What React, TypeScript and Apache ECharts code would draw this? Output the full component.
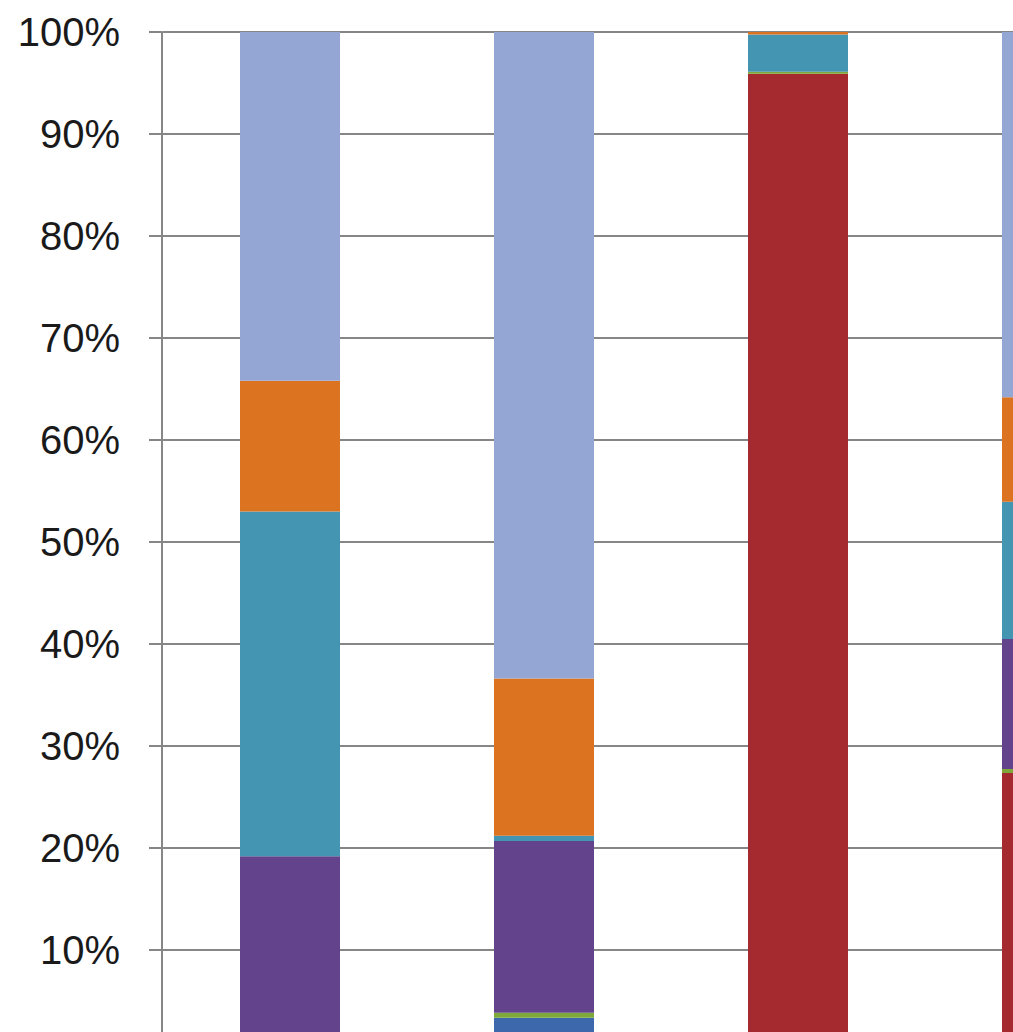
import React, { useEffect, useRef } from "react";
import * as echarts from "echarts";

const categories = ["1", "2", "3", "4"];
const seriesNames = ["S1", "S2", "S3", "S4", "S5", "S6", "S7"];
const blueValues = [0, 3.36, 0, 0];
const redValues = [0, 0, 95.9, 27.35];
const greenValues = [0, 0.5, 0.2, 0.4];
const purpleValues = [19.2, 16.83, 0, 12.75];
const tealValues = [33.8, 0.52, 3.65, 13.45];
const orangeValues = [12.8, 15.4, 0.25, 10.25];
const lightBlueValues = [34.2, 63.4, 0, 35.8];
const yTicks = [0, 10, 20, 30, 40, 50, 60, 70, 80, 90, 100];

const colors = ["#3e68ac", "#a52a30", "#7ea83a", "#63448c", "#4395b1", "#dc7320", "#93a6d4"];
const allValues = [blueValues, redValues, greenValues, purpleValues, tealValues, orangeValues, lightBlueValues];

export default function App() {
  const ref = useRef<HTMLDivElement>(null);
  useEffect(() => {
    document.documentElement.style.overflow = "hidden";
    document.body.style.overflow = "hidden";
    const chart = echarts.init(ref.current!, null, { renderer: "svg" });
    chart.setOption({
      animation: false,
      backgroundColor: "#ffffff",
      grid: { left: 163, top: 32, width: 1016, height: 1020 },
      xAxis: {
        type: "category",
        data: categories,
        axisLine: { show: true, lineStyle: { color: "#868686", width: 2 } },
        axisTick: { show: false },
        axisLabel: { show: false },
      },
      yAxis: {
        type: "value",
        min: yTicks[0],
        max: yTicks[yTicks.length - 1],
        interval: 10,
        offset: 1,
        axisLine: { show: true, lineStyle: { color: "#868686", width: 2 } },
        axisTick: { show: true, length: 13, lineStyle: { color: "#868686", width: 2 } },
        splitLine: { show: true, lineStyle: { color: "#868686", width: 2 } },
        axisLabel: {
          formatter: (v: number) => (v === 0 ? "" : v + "%"),
          fontFamily: "Liberation Sans",
          fontSize: 40,
          color: "#1a1a1a",
          margin: 42,
        },
      },
      series: allValues.map((vals, i) => ({
        name: seriesNames[i],
        type: "bar",
        stack: "total",
        barWidth: 100,
        data: vals,
        itemStyle: { color: colors[i] },
      })),
    });
    return () => chart.dispose();
  }, []);
  return (
    <div
      ref={ref}
      style={{ position: "fixed", left: 0, top: 0, width: 1200, height: 1100, background: "#fff" }}
    />
  );
}
